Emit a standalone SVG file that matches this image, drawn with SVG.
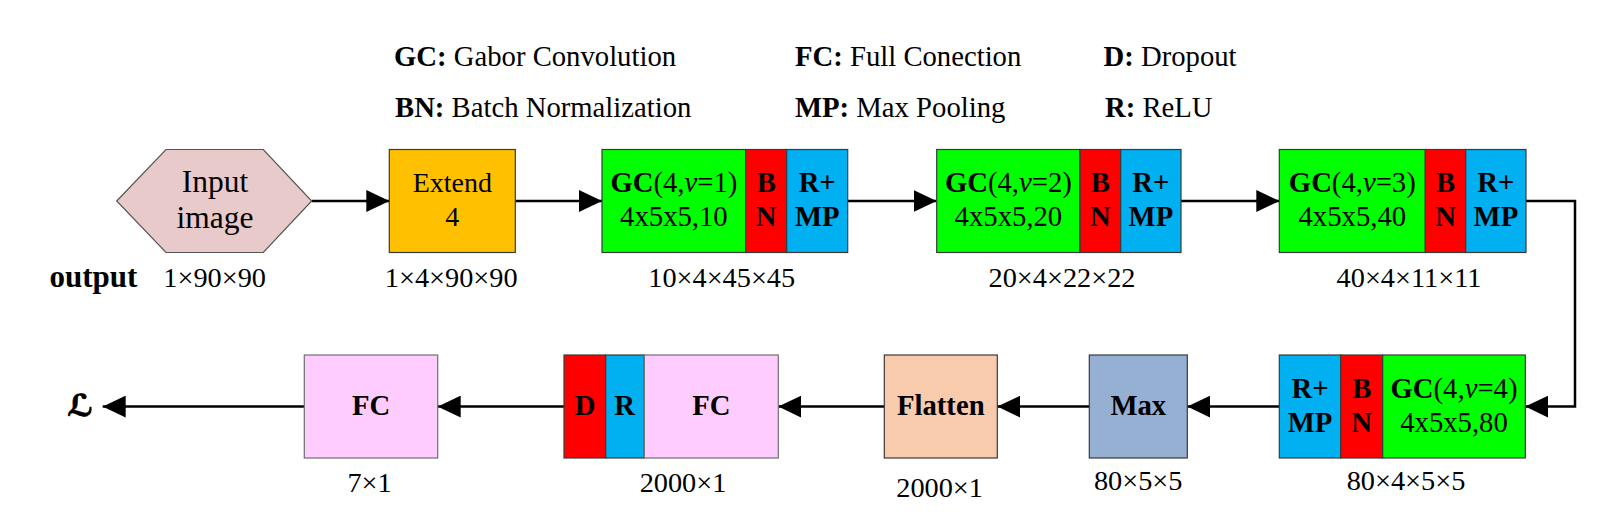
<svg xmlns="http://www.w3.org/2000/svg" width="1620" height="517" viewBox="0 0 1620 517">
<style>
text{font-family:"Liberation Serif","Times New Roman",serif;fill:#000}
.c{text-anchor:middle}
.b{font-weight:bold}
.i{font-style:italic}
.bx{font-size:28.7px}
.lg{font-size:28.7px}
.sz{font-size:28.3px}
.box{stroke:#3a3a3a;stroke-width:1.2}
.g{fill:#00FF00}
.r{fill:#FF0000}
.bl{fill:#00B0F0}
.pk{fill:#FFCCFF;stroke:#6f6f6f;stroke-width:1.2}
.cn{fill:none;stroke:#000;stroke-width:2.5;marker-end:url(#ah)}
</style>
<defs>
<marker id="ah" markerWidth="23" markerHeight="22" refX="23" refY="11" orient="auto" markerUnits="userSpaceOnUse">
<path d="M0,0 L23,11 L0,22 z" fill="#000"/>
</marker>
</defs>
<rect x="0" y="0" width="1620" height="517" fill="#fff"/>

<g id="legend" class="lg">
<text x="394" y="65.7"><tspan class="b">GC:</tspan> Gabor Convolution</text>
<text x="395" y="117.3"><tspan class="b">BN:</tspan> Batch Normalization</text>
<text x="795" y="65.7"><tspan class="b">FC:</tspan> Full Conection</text>
<text x="795" y="117.3"><tspan class="b">MP:</tspan> Max Pooling</text>
<text x="1103.5" y="65.7"><tspan class="b">D:</tspan> Dropout</text>
<text x="1105" y="117.3"><tspan class="b">R:</tspan> ReLU</text>
</g>

<g id="connectors">
<line class="cn" x1="311.7" y1="201" x2="389.3" y2="201"/>
<line class="cn" x1="515.3" y1="201" x2="602" y2="201"/>
<line class="cn" x1="847.7" y1="201" x2="936.7" y2="201"/>
<line class="cn" x1="1181" y1="201" x2="1279.3" y2="201"/>
<polyline class="cn" points="1526,201 1575,201 1575,406.6 1525.3,406.6"/>
<line class="cn" x1="1279.3" y1="406.6" x2="1187.3" y2="406.6"/>
<line class="cn" x1="1089.3" y1="406.6" x2="997.3" y2="406.6"/>
<line class="cn" x1="884.3" y1="406.6" x2="778.3" y2="406.6"/>
<line class="cn" x1="564" y1="406.6" x2="437.7" y2="406.6"/>
<line class="cn" x1="304.3" y1="406.6" x2="102.7" y2="406.6"/>
</g>

<g id="input">
<polygon points="116.7,201 166,149.5 263.3,149.5 311.7,201 263.3,252.5 166,252.5" fill="#E9CACA" stroke="#555" stroke-width="1.2"/>
<text class="c" x="215" y="191.7" style="font-size:31.5px">Input</text>
<text class="c" x="215" y="228.3" style="font-size:31.5px">image</text>
<text class="b" x="137.3" y="286.7" style="font-size:31px;text-anchor:end">output</text>
<text class="c sz" x="214.7" y="286.7">1×90×90</text>
</g>

<g id="extend">
<rect class="box" x="389.3" y="149.5" width="126" height="103" fill="#FFC000"/>
<text class="c" x="452.3" y="191.7" style="font-size:28px">Extend</text>
<text class="c" x="452.3" y="226" style="font-size:28px">4</text>
<text class="c sz" x="451.2" y="286.7">1×4×90×90</text>
</g>

<g id="gc1">
<rect class="box g" x="602" y="149.5" width="143.7" height="103"/>
<rect class="box r" x="745.7" y="149.5" width="41" height="103"/>
<rect class="box bl" x="786.7" y="149.5" width="61" height="103"/>
<text class="c bx" x="673.9" y="191.7"><tspan class="b">GC</tspan>(4,<tspan class="i">v</tspan>=1)</text>
<text class="c bx" x="673.9" y="226">4x5x5,10</text>
<text class="c bx b" x="766.2" y="191.7">B</text>
<text class="c bx b" x="766.2" y="226">N</text>
<text class="c bx b" x="817.2" y="191.7">R+</text>
<text class="c bx b" x="817.2" y="226">MP</text>
<text class="c sz" x="721.7" y="286.7">10×4×45×45</text>
</g>

<g id="gc2">
<rect class="box g" x="936.7" y="149.5" width="143.3" height="103"/>
<rect class="box r" x="1080" y="149.5" width="40.7" height="103"/>
<rect class="box bl" x="1120.7" y="149.5" width="60.3" height="103"/>
<text class="c bx" x="1008.4" y="191.7"><tspan class="b">GC</tspan>(4,<tspan class="i">v</tspan>=2)</text>
<text class="c bx" x="1008.4" y="226">4x5x5,20</text>
<text class="c bx b" x="1100.4" y="191.7">B</text>
<text class="c bx b" x="1100.4" y="226">N</text>
<text class="c bx b" x="1150.9" y="191.7">R+</text>
<text class="c bx b" x="1150.9" y="226">MP</text>
<text class="c sz" x="1062" y="286.7">20×4×22×22</text>
</g>

<g id="gc3">
<rect class="box g" x="1279.3" y="149.5" width="146" height="103"/>
<rect class="box r" x="1425.3" y="149.5" width="40.4" height="103"/>
<rect class="box bl" x="1465.7" y="149.5" width="60.3" height="103"/>
<text class="c bx" x="1352.3" y="191.7"><tspan class="b">GC</tspan>(4,<tspan class="i">v</tspan>=3)</text>
<text class="c bx" x="1352.3" y="226">4x5x5,40</text>
<text class="c bx b" x="1445.5" y="191.7">B</text>
<text class="c bx b" x="1445.5" y="226">N</text>
<text class="c bx b" x="1495.9" y="191.7">R+</text>
<text class="c bx b" x="1495.9" y="226">MP</text>
<text class="c sz" x="1409" y="286.7">40×4×11×11</text>
</g>

<g id="gc4">
<rect class="box bl" x="1279.3" y="355" width="61.4" height="103"/>
<rect class="box r" x="1340.7" y="355" width="42" height="103"/>
<rect class="box g" x="1382.7" y="355" width="142.6" height="103"/>
<text class="c bx b" x="1310" y="397.6">R+</text>
<text class="c bx b" x="1310" y="431.7">MP</text>
<text class="c bx b" x="1361.7" y="397.6">B</text>
<text class="c bx b" x="1361.7" y="431.7">N</text>
<text class="c bx" x="1454" y="397.6"><tspan class="b">GC</tspan>(4,<tspan class="i">v</tspan>=4)</text>
<text class="c bx" x="1454" y="431.7">4x5x5,80</text>
<text class="c sz" x="1406" y="490">80×4×5×5</text>
</g>

<g id="max">
<rect class="box" x="1089.3" y="355" width="98" height="103" fill="#95B0D2"/>
<text class="c bx b" x="1138.3" y="415">Max</text>
<text class="c sz" x="1138.2" y="490">80×5×5</text>
</g>

<g id="flatten">
<rect class="box" x="884.3" y="355" width="113" height="103" fill="#F8CBAD" stroke="#6f6f6f"/>
<text class="c bx b" x="940.8" y="415">Flatten</text>
<text class="c sz" x="939.6" y="496.7">2000×1</text>
</g>

<g id="fc-dropout">
<rect class="box r" x="564" y="355" width="41.7" height="103"/>
<rect class="box bl" x="605.7" y="355" width="38.6" height="103"/>
<rect class="pk" x="644.3" y="355" width="134" height="103"/>
<text class="c bx b" x="585" y="415">D</text>
<text class="c bx b" x="624.5" y="415">R</text>
<text class="c bx b" x="711.3" y="415">FC</text>
<text class="c sz" x="683" y="491.7">2000×1</text>
</g>

<g id="fc-out">
<rect class="pk" x="304.3" y="355" width="133.4" height="103"/>
<text class="c bx b" x="371" y="415">FC</text>
<text class="c sz" x="369.6" y="491.7">7×1</text>
</g>

<g id="loss">
<text x="80" y="416" style="font-family:'DejaVu Serif','DejaVu Sans',serif;font-size:30px;font-weight:bold;font-style:italic;text-anchor:middle;stroke:#000;stroke-width:1">ℒ</text>
</g>
</svg>
